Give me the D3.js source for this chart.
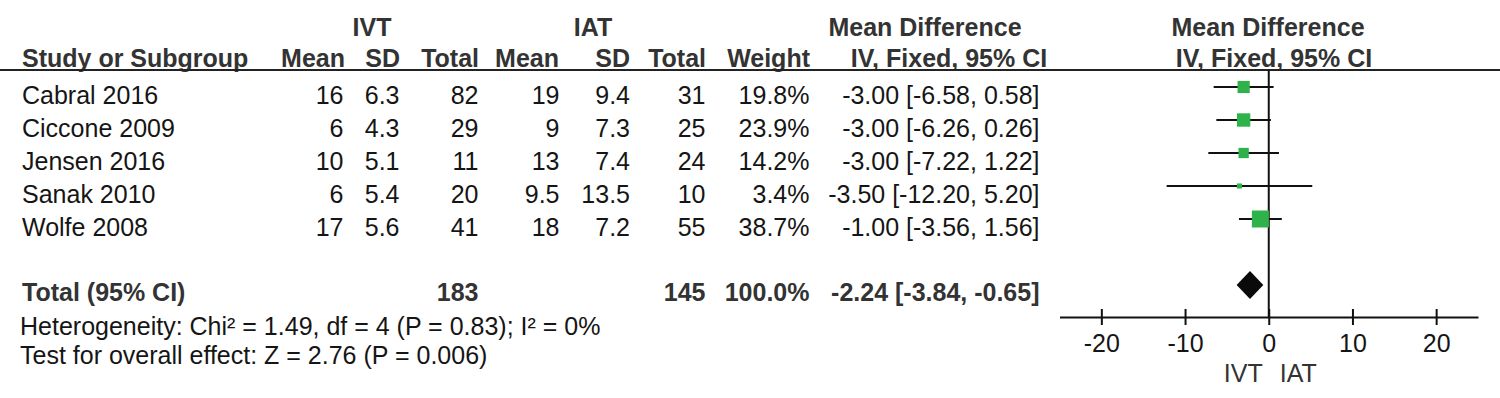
<!DOCTYPE html>
<html>
<head>
<meta charset="utf-8">
<script src="https://cdn.jsdelivr.net/npm/d3@7/dist/d3.min.js"></script>
<style>
body { margin: 0; background: #fff; }
text { font-family: "Liberation Sans", Arial, sans-serif; }
</style>
</head>
<body>
<svg id="forest" width="1500" height="398"></svg>
<script>
// study data
var studies = ["Cabral 2016", "Ciccone 2009", "Jensen 2016", "Sanak 2010", "Wolfe 2008"];
var ivtMean = [16, 6, 10, 6, 17];
var ivtSD = [6.3, 4.3, 5.1, 5.4, 5.6];
var ivtTotal = [82, 29, 11, 20, 41];
var iatMean = [19, 9, 13, 9.5, 18];
var iatSD = [9.4, 7.3, 7.4, 13.5, 7.2];
var iatTotal = [31, 25, 24, 10, 55];
var weights = [19.8, 23.9, 14.2, 3.4, 38.7];
var md = [-3.00, -3.00, -3.00, -3.50, -1.00];
var ciLow = [-6.58, -6.26, -7.22, -12.20, -3.56];
var ciHigh = [0.58, 0.26, 1.22, 5.20, 1.56];

// pooled
var totalIvt = 183;
var totalIat = 145;
var totalWeight = 100.0;
var totalMd = -2.24;
var totalLow = -3.84;
var totalHigh = -0.65;
var heterogeneity = "Heterogeneity: Chi² = 1.49, df = 4 (P = 0.83); I² = 0%";
var overallEffect = "Test for overall effect: Z = 2.76 (P = 0.006)";

var xTicks = [-20, -10, 0, 10, 20];
var xDomain = [-25, 25];

var svg = d3.select("#forest");
var headCol = "#333";
var bodyCol = "#151515";
var fsBold = 25;
var fsReg = 25;

var x = d3.scaleLinear().domain(xDomain).range([1059.5, 1478]);
var rowY = d3.scaleLinear().domain([0, 1]).range([104, 137]); // baselines
var boxSize = d3.scaleSqrt().domain([0, 38.7]).range([0, 17]);

function fmtCI(m, l, h) {
    return m.toFixed(2) + " [" + l.toFixed(2) + ", " + h.toFixed(2) + "]";
}

// header texts
function head(txt, xp, yp, anchor) {
    svg.append("text")
    .attr("x", xp).attr("y", yp)
    .attr("text-anchor", anchor)
    .attr("font-size", fsBold)
    .attr("font-weight", "bold")
    .attr("fill", headCol)
    .text(txt);
}
head("IVT", 372, 36, "middle");
head("IAT", 593, 36, "middle");
head("Mean Difference", 925, 36, "middle");
head("Mean Difference", 1268, 36, "middle");
head("Study or Subgroup", 22, 67, "start");
head("Mean", 345, 67, "end");
head("SD", 400, 67, "end");
head("Total", 479, 67, "end");
head("Mean", 559, 67, "end");
head("SD", 630, 67, "end");
head("Total", 706, 67, "end");
head("Weight", 810, 67, "end");
head("IV, Fixed, 95% CI", 949, 67, "middle");
head("IV, Fixed, 95% CI", 1274, 67, "middle");

svg.append("line")
.attr("x1", 0).attr("x2", 1500)
.attr("y1", 70).attr("y2", 70)
.attr("stroke", "#222").attr("stroke-width", 2);

// table columns
var cols = [
    {v: function(i) { return studies[i]; }, x: 22, a: "start"},
    {v: function(i) { return ivtMean[i]; }, x: 343.5, a: "end"},
    {v: function(i) { return ivtSD[i].toFixed(1); }, x: 399.5, a: "end"},
    {v: function(i) { return ivtTotal[i]; }, x: 478.5, a: "end"},
    {v: function(i) { return iatMean[i]; }, x: 559.5, a: "end"},
    {v: function(i) { return iatSD[i].toFixed(1); }, x: 630, a: "end"},
    {v: function(i) { return iatTotal[i]; }, x: 705.5, a: "end"},
    {v: function(i) { return weights[i].toFixed(1) + "%"; }, x: 809.5, a: "end"},
    {v: function(i) { return fmtCI(md[i], ciLow[i], ciHigh[i]); }, x: 1039.5, a: "end"}
];

var rows = svg.append("g").selectAll("g")
.data(studies)
.join("g");

cols.forEach(function(c) {
    rows.append("text")
    .attr("x", c.x)
    .attr("y", function(d, i) { return rowY(i); })
    .attr("text-anchor", c.a)
    .attr("font-size", fsReg)
    .attr("fill", bodyCol)
    .text(function(d, i) { return c.v(i); });
});

// total row
var totY = 301;
function tot(txt, xp, anchor) {
    svg.append("text")
    .attr("x", xp).attr("y", totY)
    .attr("text-anchor", anchor)
    .attr("font-size", fsBold)
    .attr("font-weight", "bold")
    .attr("fill", headCol)
    .text(txt);
}
tot("Total (95% CI)", 22, "start");
tot(totalIvt, 478.5, "end");
tot(totalIat, 705.5, "end");
tot(totalWeight.toFixed(1) + "%", 809.5, "end");
tot(fmtCI(totalMd, totalLow, totalHigh), 1039.5, "end");

svg.append("text")
.attr("x", 20).attr("y", 335)
.attr("font-size", fsReg).attr("fill", bodyCol)
.text(heterogeneity);
svg.append("text")
.attr("x", 20).attr("y", 364)
.attr("font-size", fsReg).attr("fill", bodyCol)
.text(overallEffect);

// forest plot
var axisY = 317;
var plot = svg.append("g");

plot.append("line")
.attr("x1", x(0)).attr("x2", x(0))
.attr("y1", 70).attr("y2", axisY)
.attr("stroke", "#111").attr("stroke-width", 2);

plot.selectAll(".ci")
.data(studies)
.join("line")
.classed("ci", true)
.attr("x1", function(d, i) { return x(ciLow[i]); })
.attr("x2", function(d, i) { return x(ciHigh[i]); })
.attr("y1", function(d, i) { return rowY(i) - 17; })
.attr("y2", function(d, i) { return rowY(i) - 17; })
.attr("stroke", "#111").attr("stroke-width", 2);

plot.selectAll(".box")
.data(studies)
.join("rect")
.classed("box", true)
.attr("x", function(d, i) { return x(md[i]) - boxSize(weights[i]) / 2; })
.attr("y", function(d, i) { return rowY(i) - 17 - boxSize(weights[i]) / 2; })
.attr("width", function(d, i) { return boxSize(weights[i]); })
.attr("height", function(d, i) { return boxSize(weights[i]); })
.attr("fill", "#2fb24a");

var dy = 285;
plot.append("path")
.attr("d", "M" + x(totalLow) + "," + dy +
    "L" + x(totalMd) + "," + (dy - 14) +
    "L" + x(totalHigh) + "," + dy +
    "L" + x(totalMd) + "," + (dy + 14) + "Z")
.attr("fill", "#0a0a0a");

var xAxis = d3.axisBottom(x)
.tickValues(xTicks)
.tickFormat(function(d) { return String(d); })
.tickSizeOuter(0)
.tickSizeInner(8);

var ax = plot.append("g")
.attr("transform", "translate(0," + axisY + ")")
.call(xAxis);

ax.select(".domain").attr("stroke", "#111").attr("stroke-width", 2);
ax.selectAll(".tick line")
.attr("y1", -8).attr("y2", 8)
.attr("stroke", "#111").attr("stroke-width", 2);
ax.selectAll(".tick text")
.attr("y", 35).attr("dy", 0)
.attr("font-size", fsReg)
.attr("font-family", "Liberation Sans, Arial, sans-serif")
.attr("fill", bodyCol);

plot.append("text")
.attr("x", x(0) - 6).attr("y", 382)
.attr("text-anchor", "end")
.attr("font-size", fsReg).attr("fill", headCol)
.text("IVT");
plot.append("text")
.attr("x", x(0) + 11).attr("y", 382)
.attr("text-anchor", "start")
.attr("font-size", fsReg).attr("fill", headCol)
.text("IAT");
</script>
</body>
</html>
